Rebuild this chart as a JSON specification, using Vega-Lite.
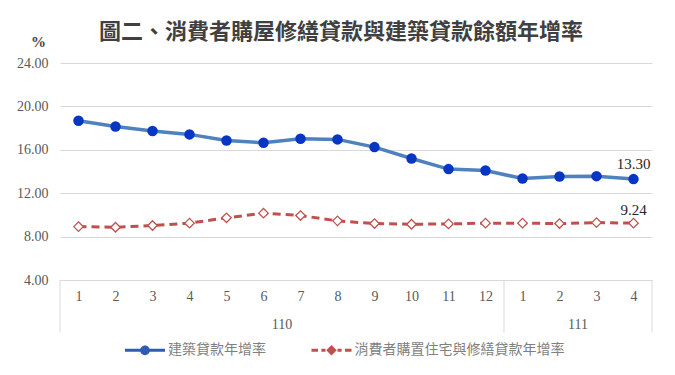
{
  "$schema": "https://vega.github.io/schema/vega-lite/v6.json",
  "autosize": "none",
  "width": 592,
  "height": 217,
  "padding": {"left": 60, "top": 63, "right": 23, "bottom": 95},
  "background": "white",
  "title": {
    "text": "圖二、消費者購屋修繕貸款與建築貸款餘額年增率",
    "font": "Noto Sans CJK TC",
    "fontSize": 22,
    "fontWeight": "bold",
    "color": "#404040",
    "anchor": "middle",
    "frame": "group",
    "dx": -15,
    "offset": -10
  },
  "datasets": {
    "main": [
      {"idx": 1, "year": "110", "month": 1, "build": 18.68, "consumer": 8.92},
      {"idx": 2, "year": "110", "month": 2, "build": 18.15, "consumer": 8.86},
      {"idx": 3, "year": "110", "month": 3, "build": 17.73, "consumer": 9.02},
      {"idx": 4, "year": "110", "month": 4, "build": 17.42, "consumer": 9.24},
      {"idx": 5, "year": "110", "month": 5, "build": 16.86, "consumer": 9.73},
      {"idx": 6, "year": "110", "month": 6, "build": 16.65, "consumer": 10.16},
      {"idx": 7, "year": "110", "month": 7, "build": 17.02, "consumer": 9.94},
      {"idx": 8, "year": "110", "month": 8, "build": 16.96, "consumer": 9.45},
      {"idx": 9, "year": "110", "month": 9, "build": 16.25, "consumer": 9.2},
      {"idx": 10, "year": "110", "month": 10, "build": 15.2, "consumer": 9.14},
      {"idx": 11, "year": "110", "month": 11, "build": 14.22, "consumer": 9.17},
      {"idx": 12, "year": "110", "month": 12, "build": 14.09, "consumer": 9.24},
      {"idx": 13, "year": "111", "month": 1, "build": 13.35, "consumer": 9.24},
      {"idx": 14, "year": "111", "month": 2, "build": 13.54, "consumer": 9.2},
      {"idx": 15, "year": "111", "month": 3, "build": 13.57, "consumer": 9.29},
      {"idx": 16, "year": "111", "month": 4, "build": 13.3, "consumer": 9.24}
    ],
    "years": [
      {"year": "110", "idx": 6.5},
      {"year": "111", "idx": 14.5}
    ],
    "seps": [
      {"idx": 0.5},
      {"idx": 12.5},
      {"idx": 16.5}
    ]
  },
  "data": {"name": "main"},
  "config": {
    "view": {"stroke": null},
    "axis": {"labelFont": "Liberation Serif", "labelFontSize": 14, "labelColor": "#595959"}
  },
  "encoding": {
    "x": {
      "field": "idx", "type": "quantitative",
      "scale": {"domain": [0.5, 16.5], "nice": false, "zero": false},
      "axis": {
        "values": [1, 2, 3, 4, 5, 6, 7, 8, 9, 10, 11, 12, 13, 14, 15, 16],
        "labelExpr": "datum.value > 12 ? datum.value - 12 : datum.value",
        "labelOverlap": false,
        "labelSeparation": 0,
        "labelBound": false,
        "labelFlush": false,
        "title": null, "ticks": false, "domain": false, "grid": false,
        "labelPadding": 9
      }
    }
  },
  "layer": [
    {
      "data": {"name": "seps"},
      "mark": {"type": "rule", "color": "#d9d9d9", "strokeWidth": 1},
      "encoding": {
        "y": {"datum": 4},
        "y2": {"datum": -0.85}
      }
    },
    {
      "data": {"name": "years"},
      "mark": {"type": "text", "font": "Liberation Serif", "fontSize": 14, "color": "#595959", "baseline": "middle"},
      "encoding": {
        "y": {"datum": -0.15},
        "text": {"field": "year"}
      }
    },
    {
      "mark": {"type": "line", "color": "#4f81bd", "strokeWidth": 3.5},
      "encoding": {
        "y": {
          "field": "build", "type": "quantitative",
          "scale": {"domain": [4, 24], "nice": false, "zero": false},
          "axis": {
            "values": [4, 8, 12, 16, 20, 24],
            "format": ".2f",
            "title": "%",
            "titleAngle": 0,
            "titleFont": "Liberation Serif",
            "titleFontSize": 15,
            "titleFontWeight": "bold",
            "titleColor": "#404040",
            "titleAlign": "center",
            "titleBaseline": "middle",
            "titleX": -22,
            "titleY": -22,
            "ticks": false,
            "domain": false,
            "grid": true,
            "gridColor": "#d9d9d9",
            "gridWidth": 1,
            "labelPadding": 12
          }
        }
      }
    },
    {
      "mark": {"type": "line", "color": "#c0504d", "strokeWidth": 3, "strokeDash": [8, 5]},
      "encoding": {
        "y": {"field": "consumer", "type": "quantitative"}
      }
    },
    {
      "mark": {"type": "point", "shape": "circle", "filled": true, "color": "#0836c4", "opacity": 1, "size": 110},
      "encoding": {
        "y": {"field": "build", "type": "quantitative"}
      }
    },
    {
      "mark": {"type": "point", "shape": "diamond", "filled": false, "fill": "white", "fillOpacity": 1, "stroke": "#c0504d", "strokeWidth": 1.3, "opacity": 1, "size": 90},
      "encoding": {
        "y": {"field": "consumer", "type": "quantitative"}
      }
    },
    {
      "transform": [{"filter": "datum.idx == 16"}],
      "mark": {"type": "text", "font": "Liberation Serif", "fontSize": 15, "color": "#262626", "baseline": "bottom", "dy": -7},
      "encoding": {
        "y": {"field": "build", "type": "quantitative"},
        "text": {"field": "build", "type": "quantitative", "format": ".2f"}
      }
    },
    {
      "transform": [{"filter": "datum.idx == 16"}],
      "mark": {"type": "text", "font": "Liberation Serif", "fontSize": 15, "color": "#262626", "baseline": "bottom", "dy": -5},
      "encoding": {
        "y": {"field": "consumer", "type": "quantitative"},
        "text": {"field": "consumer", "type": "quantitative", "format": ".2f"}
      }
    },
    {
      "transform": [{"filter": "false"}],
      "mark": {"type": "point", "filled": true, "opacity": 1},
      "encoding": {
        "y": {"field": "build", "type": "quantitative"},
        "color": {
          "field": "series", "type": "nominal",
          "scale": {"domain": ["建築貸款年增率", "消費者購置住宅與修繕貸款年增率"], "range": ["#2f5bb7", "#c0504d"]},
          "legend": {
            "title": null,
            "orient": "none",
            "direction": "horizontal",
            "legendX": 77.5,
            "legendY": 279.5,
            "padding": 0,
            "symbolSize": 225,
            "symbolStrokeWidth": 0,
            "labelOffset": 15.5,
            "columnPadding": 44.5,
            "labelFont": "Noto Sans CJK TC",
            "labelFontSize": 14,
            "labelColor": "#7f7f7f",
            "labelLimit": 400
          }
        },
        "shape": {
          "field": "series", "type": "nominal",
          "scale": {
            "domain": ["建築貸款年增率", "消費者購置住宅與修繕貸款年增率"],
            "range": [
              "M-2.67,-0.2H2.67V0.2H-2.67Z M0.65,0A0.65,0.65 0 1,1 -0.65,0A0.65,0.65 0 1,1 0.65,0Z",
              "M-2.67,-0.2H-1.8V0.2H-2.67Z M-1.35,-0.2H-0.8V0.2H-1.35Z M0.8,-0.2H1.35V0.2H0.8Z M1.8,-0.2H2.67V0.2H1.8Z M0,-0.7L0.7,0L0,0.7L-0.7,0Z"
            ]
          }
        }
      }
    }
  ]
}
